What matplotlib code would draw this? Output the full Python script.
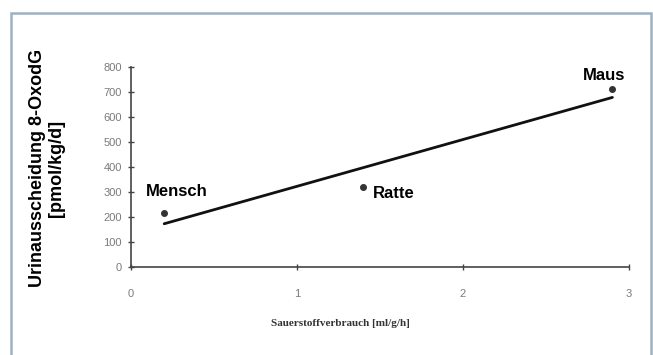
import numpy as np
import matplotlib
matplotlib.use("Agg")
import matplotlib.pyplot as plt
from matplotlib.patches import Rectangle

# data
species = ["Mensch", "Ratte", "Maus"]
oxygen = [0.2, 1.4, 2.9]          # Sauerstoffverbrauch [ml/g/h]
oxodg = [215, 322, 712]           # Urinausscheidung 8-OxodG [pmol/kg/d]
xticks = [0, 1, 2, 3]
yticks = [0, 100, 200, 300, 400, 500, 600, 700, 800]

fig = plt.figure(figsize=(6.53, 3.55), dpi=100)
fig.patch.set_facecolor("white")

# outer frame
fig.add_artist(Rectangle((11/653, -0.05), 640/653, 1.05 - 13/355,
                         transform=fig.transFigure, fill=False,
                         edgecolor="#9bb2c4", linewidth=1.8))

ax = fig.add_axes([131/653, 1-267/355, (629-131)/653, (267-67)/355])
ax.set_xlim(0, 3)
ax.set_ylim(0, 800)
for s in ["top", "right"]:
    ax.spines[s].set_visible(False)
for s in ["left", "bottom"]:
    ax.spines[s].set_color("#444444")
    ax.spines[s].set_linewidth(1.2)
ax.set_xticks(xticks)
ax.set_yticks(yticks)
ax.tick_params(direction="inout", length=5, width=1, color="#444444",
               labelcolor="#7a7a7a", labelsize=8)
ax.tick_params(axis="y", pad=4)
ax.tick_params(axis="x", pad=13)
for lab in ax.get_xticklabels() + ax.get_yticklabels():
    lab.set_family("Liberation Sans")

# trendline (least squares)
m, b = np.polyfit(oxygen, oxodg, 1)
xs = np.array([min(oxygen), max(oxygen)])
ax.plot(xs, m*xs + b, color="#111111", lw=2, solid_capstyle="round", zorder=2)
ax.plot(oxygen, oxodg, "o", color="#333333", ms=4, zorder=3, clip_on=False)

# labels
ax.annotate(species[0], (oxygen[0], oxodg[0]), xytext=(-13, 10), textcoords="offset points",
            fontsize=12, fontweight="bold", family="Liberation Sans", va="bottom")
ax.annotate(species[1], (oxygen[1], oxodg[1]), xytext=(7, -5), textcoords="offset points",
            fontsize=12, fontweight="bold", family="Liberation Sans", va="center")
ax.annotate(species[2], (oxygen[2], oxodg[2]), xytext=(-21, 4), textcoords="offset points",
            fontsize=12, fontweight="bold", family="Liberation Sans", va="bottom")

fig.text(340/653, 1-323/355, "Sauerstoffverbrauch [ml/g/h]", family="Liberation Serif",
         fontweight="bold", fontsize=8, ha="center", va="center", color="#333333")
fig.text(47/653, 1-168/355, "Urinausscheidung 8-OxodG\n[pmol/kg/d]", family="Liberation Sans",
         fontweight="bold", fontsize=13, ha="center", va="center", rotation=90,
         linespacing=1.1)

fig.savefig("out.png", dpi=100)
